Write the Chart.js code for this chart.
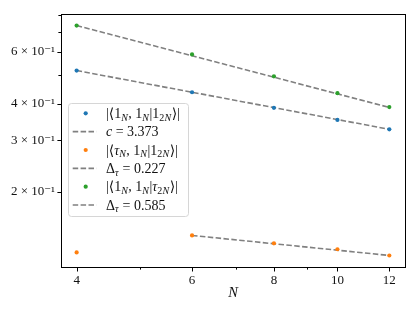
<!DOCTYPE html>
<html><head><meta charset="utf-8">
<script src="https://cdn.jsdelivr.net/npm/chart.js@4"></script>
<style>html,body{margin:0;padding:0;background:#fff}#wrap{width:415px;height:311px}</style>
</head><body><div id="wrap"><canvas id="c" width="415" height="311"></canvas></div>
<script>
// ---- data ----
const N = [4, 6, 8, 10, 12];
const blueVals = [0.518, 0.437, 0.387, 0.352, 0.327];     // |<1_N,1_N|1_2N>|
const orangeVals = [0.1246, 0.1424, 0.1339, 0.1278, 0.1217]; // |<tau_N,1_N|1_2N>|
const greenVals = [0.737, 0.588, 0.495, 0.434, 0.389];    // |<1_N,1_N|tau_2N>|
const blueFitN = [4, 12];
const blueFitVals = [0.518, 0.327];
const orangeFitN = [6, 12];
const orangeFitVals = [0.1424, 0.1217];
const greenFitN = [4, 12];
const greenFitVals = [0.737, 0.388];
const xTickValues = [4, 5, 6, 7, 8, 9, 10, 12];
const xTickLabels = ['4', '', '6', '', '8', '', '10', '12'];
const yTickValues = [0.2, 0.3, 0.4, 0.5, 0.6, 0.7, 0.8];
const yTickLabels = ['2 × 10⁻¹', '3 × 10⁻¹', '4 × 10⁻¹', '', '6 × 10⁻¹', '', ''];
const xTitle = 'N';
// legend labels: segments [text, flags] ; flags: s=subscript, i=italic
const legendLabels = [
  [['|⟨1',''],['N','si'],[', 1',''],['N','si'],['|1',''],['2','s'],['N','si'],['⟩|','']],
  [['c','i'],[' = 3.373','']],
  [['|⟨',''],['τ','i'],['N','si'],[', 1',''],['N','si'],['|1',''],['2','s'],['N','si'],['⟩|','']],
  [['Δ',''],['τ','si'],[' = 0.227','']],
  [['|⟨1',''],['N','si'],[', 1',''],['N','si'],['|',''],['τ','i'],['2','s'],['N','si'],['⟩|','']],
  [['Δ',''],['τ','si'],[' = 0.585','']]
];
const legendKinds = ['point', 'line', 'point', 'line', 'point', 'line'];

const BLUE = '#1f77b4', ORANGE = '#ff7f0e', GREEN = '#2ca02c', GREY = '#808080';
const legendColors = [BLUE, GREY, ORANGE, GREY, GREEN, GREY];
const SERIF = '"Liberation Serif", "DejaVu Serif", serif';
const DASH = [5.5, 2.4];

const pts = (xs, ys) => xs.map((x, i) => ({x: x, y: ys[i]}));
const scatterDs = (vals, c) => ({type: 'scatter', data: pts(N, vals), backgroundColor: c, borderWidth: 0, pointRadius: 2.1, pointHoverRadius: 2.1, showLine: false});
const lineDs = (xs, vals) => ({type: 'line', data: pts(xs, vals), borderColor: GREY, borderWidth: 1.6, borderDash: DASH, pointRadius: 0, fill: false, showLine: true});

const axisPlugin = {
  id: 'axisPlugin',
  afterDraw(chart) {
    const ctx = chart.ctx, a = chart.chartArea;
    const xs = chart.scales.x, ys = chart.scales.y;
    ctx.save();
    ctx.strokeStyle = '#000';
    ctx.lineWidth = 1;
    // ticks
    xTickValues.forEach((v, i) => {
      const px = Math.round(xs.getPixelForValue(v)) + 0.5;
      const len = xTickLabels[i] ? 4.5 : 2.6;
      ctx.beginPath(); ctx.moveTo(px, a.bottom); ctx.lineTo(px, a.bottom + len); ctx.stroke();
    });
    yTickValues.forEach((v, i) => {
      const py = Math.round(ys.getPixelForValue(v)) + 0.5;
      const len = yTickLabels[i] ? 3.6 : 2.6;
      ctx.beginPath(); ctx.moveTo(a.left, py); ctx.lineTo(a.left - len, py); ctx.stroke();
    });
    // frame
    ctx.strokeRect(Math.round(a.left) + 0.5, Math.round(a.top) + 0.5, Math.round(a.right - a.left), Math.round(a.bottom - a.top));
    // legend
    const bx = 68.5, by = 103.5, bw = 120, bh = 113;
    ctx.beginPath();
    ctx.roundRect(bx, by, bw, bh, 3);
    ctx.fillStyle = 'rgba(255,255,255,0.8)';
    ctx.fill();
    ctx.strokeStyle = '#d6d6d6';
    ctx.stroke();
    const y0 = 113.3, dy = 18.35;
    legendLabels.forEach((segs, i) => {
      const y = y0 + i * dy;
      if (legendKinds[i] === 'point') {
        ctx.beginPath(); ctx.arc(85.7, y, 2.1, 0, Math.PI * 2);
        ctx.fillStyle = legendColors[i]; ctx.fill();
      } else {
        ctx.beginPath(); ctx.setLineDash(DASH);
        ctx.strokeStyle = GREY; ctx.lineWidth = 1.6;
        ctx.moveTo(72.7, y); ctx.lineTo(96.5, y); ctx.stroke();
        ctx.setLineDash([]);
      }
      let x = 106;
      ctx.fillStyle = '#111';
      ctx.textBaseline = 'alphabetic';
      segs.forEach(([t, f]) => {
        const sub = f.includes('s');
        const it = f.includes('i');
        ctx.font = (it ? 'italic ' : '') + (sub ? '10px ' : '14px ') + SERIF;
        ctx.fillText(t, x, y + 4.6 + (sub ? 2.8 : 0));
        x += ctx.measureText(t).width + (sub ? 0.4 : 0);
      });
    });
    ctx.restore();
  }
};

new Chart(document.getElementById('c'), {
  data: {
    datasets: [
      scatterDs(blueVals, BLUE),
      lineDs(blueFitN, blueFitVals),
      scatterDs(orangeVals, ORANGE),
      lineDs(orangeFitN, orangeFitVals),
      scatterDs(greenVals, GREEN),
      lineDs(greenFitN, greenFitVals)
    ]
  },
  options: {
    responsive: false,
    animation: false,
    devicePixelRatio: 1,
    layout: {padding: {left: 0, right: 10, top: 9, bottom: 0}},
    plugins: {legend: {display: false}, tooltip: {enabled: false}},
    scales: {
      x: {
        type: 'logarithmic', position: 'bottom', min: 3.786, max: 12.68,
        afterBuildTicks: s => { s.ticks = xTickValues.map(v => ({value: v})); },
        afterFit: s => { s.height = 44; },
        ticks: {
          callback: (v, i) => xTickLabels[i], autoSkip: false, maxRotation: 0, minRotation: 0,
          font: {family: SERIF, size: 13}, color: '#111', padding: 6
        },
        grid: {display: false, drawTicks: false},
        border: {display: false},
        title: {display: true, text: xTitle, font: {family: SERIF, size: 14.5, style: 'italic'}, color: '#111', padding: {top: 0, bottom: 9}}
      },
      y: {
        type: 'logarithmic', position: 'left', min: 0.1112, max: 0.808,
        afterBuildTicks: s => { s.ticks = yTickValues.map(v => ({value: v})); },
        afterFit: s => { s.width = 61; },
        ticks: {
          callback: (v, i) => yTickLabels[i], autoSkip: false,
          font: {family: SERIF, size: 13}, color: '#111', padding: 6
        },
        grid: {display: false, drawTicks: false},
        border: {display: false}
      }
    }
  },
  plugins: [axisPlugin]
});
</script></body></html>
